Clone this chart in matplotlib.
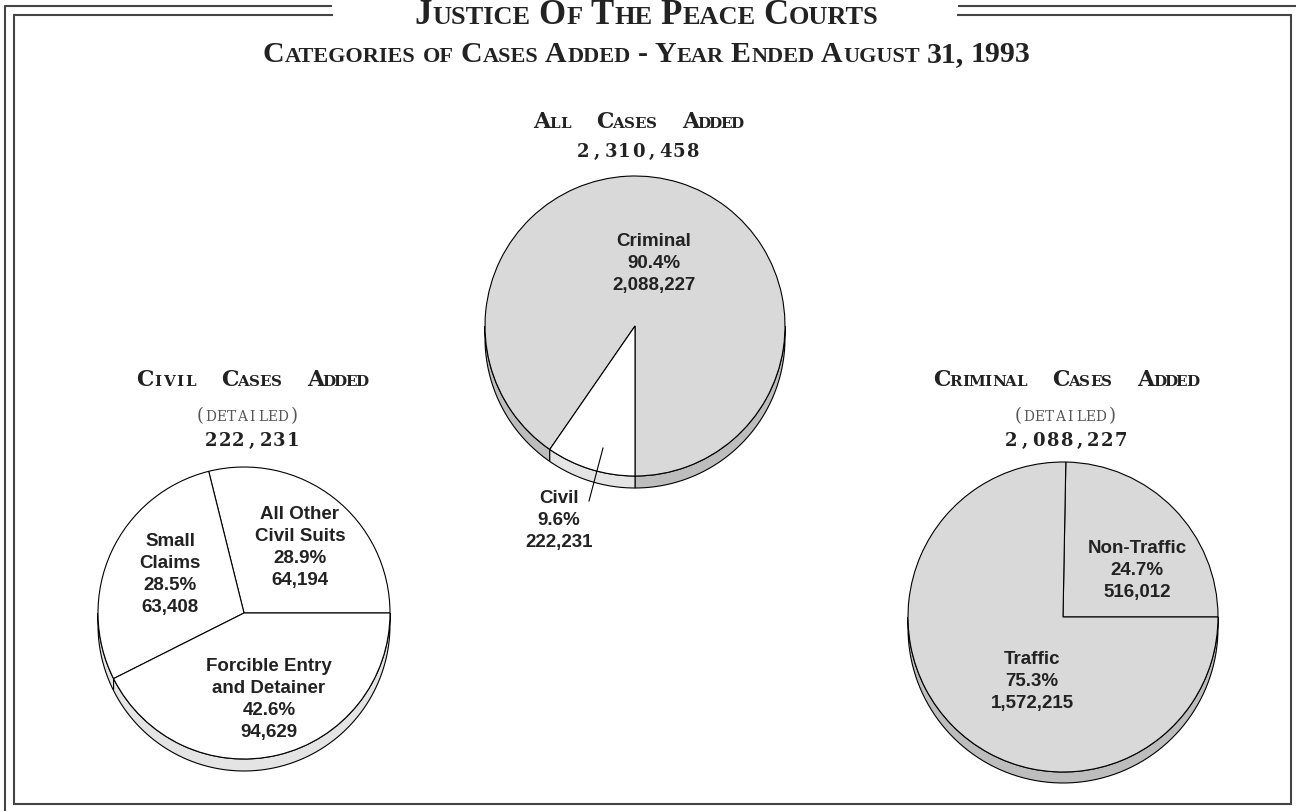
import matplotlib
matplotlib.use('Agg')
import matplotlib.pyplot as plt
from matplotlib.patches import Polygon
import numpy as np

# ---------------- data ----------------
all_categories = ['Criminal', 'Civil']
all_values = [2088227, 222231]

civil_categories = ['All Other\nCivil Suits', 'Small\nClaims', 'Forcible Entry\nand Detainer']
civil_values = [64194, 63408, 94629]

criminal_categories = ['Non-Traffic', 'Traffic']
criminal_values = [516012, 1572215]

title = 'Justice Of The Peace Courts'
subtitle = 'Categories of Cases Added - Year Ended August 31, 1993'
all_heading = 'All Cases Added'
civil_heading = 'Civil Cases Added'
criminal_heading = 'Criminal Cases Added'
detail_note = '(detailed)'

# ---------------- figure in pixel coordinates ----------------
W, H = 1296, 811
fig = plt.figure(figsize=(12.96, 8.11), dpi=100)
ax = fig.add_axes([0, 0, 1, 1])
renderer = fig.canvas.get_renderer()

def Y(y):
    return H - y

GRAY = '#d9d9d9'
WHITE = '#ffffff'
SIDE = {GRAY: '#bdbdbd', WHITE: '#e4e4e4'}
INK = '#222222'

# ---------------- helpers ----------------
def text_width(s, size, family, weight):
    t = ax.text(0, 0, s, fontsize=size, family=family, fontweight=weight)
    w = t.get_window_extent(renderer).width
    t.remove()
    return w

def smallcaps(cx, y, s, big, small, family, weight='bold', color=INK):
    runs = []
    for ch in s:
        kind = 'sp' if ch == ' ' else ('small' if ch.islower() else 'big')
        if runs and runs[-1][0] == kind:
            runs[-1][1] += ch
        else:
            runs.append([kind, ch])
    widths = []
    for kind, txt in runs:
        if kind == 'sp':
            w = text_width('a' + txt + 'a', small, family, weight) - text_width('aa', small, family, weight)
        elif kind == 'small':
            w = text_width(txt.upper(), small, family, weight) + 1
        else:
            w = text_width(txt, big, family, weight) + 1
        widths.append(w)
    x = cx - sum(widths) / 2
    for (kind, txt), w in zip(runs, widths):
        if kind != 'sp':
            ax.text(x, Y(y), txt.upper(), fontsize=big if kind == 'big' else small,
                    family=family, fontweight=weight, color=color,
                    ha='left', va='baseline')
        x += w

def mono(cx, y, s, big, small, adv_big, adv_small, adv_sp,
         family='DejaVu Serif', weight='bold', color=INK):
    items = []
    for ch in s:
        if ch == ' ':
            items.append((None, None, adv_sp))
        elif ch.islower():
            items.append((ch.upper(), small, adv_small))
        else:
            items.append((ch, big, adv_big))
    x = cx - sum(a for _, _, a in items) / 2
    for ch, size, a in items:
        if ch:
            ax.text(x + a / 2, Y(y), ch, fontsize=size, family=family,
                    fontweight=weight, color=color, ha='center', va='baseline')
        x += a

def side_ranges(t1, t2):
    out = []
    for base in (-360, 0, 360, 720):
        a = max(t1, 180 + base)
        b = min(t2, 360 + base)
        if b > a:
            out.append((a, b))
    return out

def draw_pie(values, colors, cx, cy, r, start, thick):
    wedges, _ = ax.pie(values, colors=colors, startangle=start, counterclock=True,
                       center=(cx, Y(cy)), radius=r, frame=True,
                       wedgeprops=dict(edgecolor='black', linewidth=0.8))
    for w, c in zip(wedges, colors):
        ccx, ccy = w.center
        for a, b in side_ranges(w.theta1, w.theta2):
            th = np.radians(np.linspace(a, b, 80))
            top = np.column_stack([ccx + w.r * np.cos(th), ccy + w.r * np.sin(th)])
            bot = top[::-1] - np.array([0, thick])
            ax.add_patch(Polygon(np.vstack([top, bot]), closed=True, facecolor=SIDE[c],
                                 edgecolor='black', linewidth=0.8, zorder=0.5))
    return wedges

def label(cx, y0, name, value, total, step=22):
    lines = name.split('\n') + [f'{100 * value / total:.1f}%', f'{value:,}']
    for i, ln in enumerate(lines):
        ax.text(cx, Y(y0 + i * step), ln, ha='center', va='baseline', fontsize=13.5,
                family='Liberation Sans', fontweight='bold', color=INK)

# ---------------- frame ----------------
fc = '#444444'
ax.plot([5, 5, 332], [Y(811), Y(6), Y(6)], color=fc, lw=1.5, solid_capstyle='butt')
ax.plot([958, 1296], [Y(6), Y(6)], color=fc, lw=1.5, solid_capstyle='butt')
ax.plot([332, 14, 14, 1291, 1291, 958],
        [Y(15), Y(15), Y(804), Y(804), Y(15), Y(15)], color=fc, lw=1.5,
        solid_joinstyle='miter')

# ---------------- titles ----------------
smallcaps(647, 24, title, big=25, small=19, family='Liberation Serif')
smallcaps(647, 62, subtitle, big=21.5, small=16, family='Liberation Serif')

# ---------------- center pie: all cases ----------------
all_total = sum(all_values)
mono(638, 128, all_heading, 15.8, 10.9, 15.6, 11, 26)
mono(638, 157, f'{all_total:,}', 13, 13, 13.7, 13.7, 13.7)
w_all = draw_pie(all_values, [GRAY, WHITE], 635, 326, 150, 270, 12)
label(654, 246, all_categories[0], all_values[0], all_total)
label(559, 503, all_categories[1], all_values[1], all_total)
ax.plot([603, 589], [Y(448), Y(501)], color='black', lw=0.8)

# ---------------- left pie: civil ----------------
civil_total = sum(civil_values)
mono(252, 386, civil_heading, 15.8, 10.9, 15.6, 11, 26)
mono(247, 421, detail_note, 13, 9.9, 12, 10.3, 10.3, weight='normal', color='#555555')
mono(252, 446, f'{civil_total:,}', 13, 13, 13.7, 13.7, 13.7)
draw_pie(civil_values, [WHITE, WHITE, WHITE], 244, 613, 146, 0, 12)
civil_label_pos = [(300, 519), (170, 546), (269, 671)]
for (lx, ly), n, v in zip(civil_label_pos, civil_categories, civil_values):
    label(lx, ly, n, v, civil_total)

# ---------------- right pie: criminal ----------------
criminal_total = sum(criminal_values)
mono(1066, 386, criminal_heading, 15.8, 10.9, 15.6, 11, 26)
mono(1065, 421, detail_note, 13, 9.9, 12, 10.3, 10.3, weight='normal', color='#555555')
mono(1066, 446, f'{criminal_total:,}', 13, 13, 13.7, 13.7, 13.7)
draw_pie(criminal_values, [GRAY, GRAY], 1063, 617, 155, 0, 11)
criminal_label_pos = [(1137, 553), (1032, 664)]
for (lx, ly), n, v in zip(criminal_label_pos, criminal_categories, criminal_values):
    label(lx, ly, n, v, criminal_total)

ax.set_aspect('auto')
ax.set_xlim(0, W)
ax.set_ylim(0, H)
ax.axis('off')
fig.savefig('out.png', dpi=100, facecolor='white')
